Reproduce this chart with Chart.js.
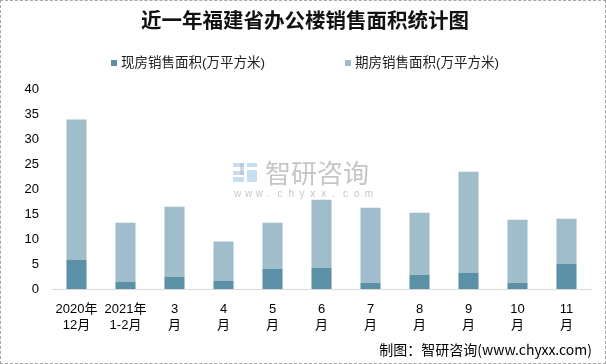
<!DOCTYPE html>
<html>
<head>
<meta charset="utf-8">
<script src="https://cdn.jsdelivr.net/npm/chart.js@4.4.0/dist/chart.umd.min.js"></script>
<style>
    html, body { margin: 0; padding: 0; background: #fff; }
    #wrap { width: 606px; height: 364px; box-sizing: border-box; border: 1px dashed #a6a6a6; position: relative; }
    canvas { display: block; }
</style>
</head>
<body>
<div id="wrap"><canvas id="myChart" width="604" height="362"></canvas></div>
<script>
// 数据
const labels = [
    ['2020年', '12月'], ['2021年', '1-2月'], ['3', '月'], ['4', '月'], ['5', '月'], ['6', '月'],
    ['7', '月'], ['8', '月'], ['9', '月'], ['10', '月'], ['11', '月']
];
const xianfang = [5.8, 1.45, 2.4, 1.6, 4.0, 4.2, 1.2, 2.8, 3.2, 1.2, 5.0];
const qifang = [28.2, 11.85, 14.1, 7.95, 9.3, 13.7, 15.1, 12.5, 20.3, 12.7, 9.1];

const cnFont = '"Liberation Sans", "Noto Sans CJK SC", sans-serif';

// 图例（手动放置）+ 水印 + 底部来源
const extraText = {
    id: 'extraText',
    beforeDatasetsDraw(chart) {
        const ctx = chart.ctx;
        ctx.save();
        // logo
        ctx.fillStyle = 'rgba(170,185,215,0.55)';
        ctx.fillRect(232, 162, 11, 4);
        ctx.fillRect(239, 162, 4, 12);
        ctx.fillRect(232, 170, 11, 4);
        ctx.fillStyle = 'rgba(150,195,230,0.55)';
        ctx.fillRect(232, 176, 11, 5);
        ctx.fillRect(246, 162, 10, 4);
        ctx.fillRect(246, 169, 10, 12);
        ctx.fillStyle = 'rgba(150,150,150,0.55)';
        ctx.font = '26px "Noto Sans CJK SC", sans-serif';
        ctx.textBaseline = 'middle';
        ctx.fillText('智研咨询', 264, 172);
        ctx.font = '10px "Liberation Sans", sans-serif';
        const site = 'www.chyxx.com';
        for (let i = 0; i < site.length; i++) {
            ctx.fillText(site[i], 233 + i * 10.9, 193);
        }
        ctx.restore();
    },
    afterDraw(chart) {
        const ctx = chart.ctx;
        ctx.save();
        // 图例
        const legendX = [110, 344];
        ctx.font = '13.5px "Liberation Sans", "Noto Sans CJK SC", sans-serif';
        ctx.textBaseline = 'middle';
        chart.data.datasets.forEach((ds, i) => {
            ctx.fillStyle = ds.backgroundColor;
            ctx.fillRect(legendX[i], 59, 6, 6);
            ctx.fillStyle = '#222';
            ctx.fillText(ds.label, legendX[i] + 10, 62);
        });
        ctx.font = '14px "Noto Sans CJK SC", sans-serif';
        ctx.fillStyle = '#000';
        ctx.textAlign = 'right';
        ctx.fillText('制图：智研咨询(www.chyxx.com)', 591, 349);
        ctx.restore();
    }
};

new Chart(document.getElementById('myChart').getContext('2d'), {
    type: 'bar',
    data: {
        labels: labels,
        datasets: [
            {
                label: '现房销售面积(万平方米)',
                data: xianfang,
                backgroundColor: '#5b90a7',
                barPercentage: 0.82,
                categoryPercentage: 0.5
            },
            {
                label: '期房销售面积(万平方米)',
                data: qifang,
                backgroundColor: '#9fbdca',
                barPercentage: 0.82,
                categoryPercentage: 0.5
            }
        ]
    },
    options: {
        responsive: false,
        animation: false,
        layout: { padding: { left: 18, right: 14, top: 0, bottom: 26 } },
        plugins: {
            title: {
                display: true,
                text: '近一年福建省办公楼销售面积统计图',
                color: '#111',
                font: { size: 20.5, weight: 'bold', family: '"Noto Sans CJK SC", serif' },
                padding: { top: 7, bottom: 57 }
            },
            legend: { display: false },
            tooltip: { enabled: false }
        },
        scales: {
            x: {
                stacked: true,
                grid: { display: false },
                border: { color: '#d9d9d9', width: 1 },
                ticks: { color: '#000', font: { size: 13, family: cnFont }, maxRotation: 0, autoSkip: false, padding: 5 },
                afterFit(scale) { scale.height = 48; }
            },
            y: {
                stacked: true,
                min: 0,
                max: 40,
                grid: { display: false, drawTicks: false },
                border: { display: false },
                ticks: { stepSize: 5, autoSkip: false, color: '#000', font: { size: 13, family: cnFont }, padding: 13 },
                afterFit(scale) { scale.width = 33; }
            }
        }
    },
    plugins: [extraText]
});
</script>
</body>
</html>
